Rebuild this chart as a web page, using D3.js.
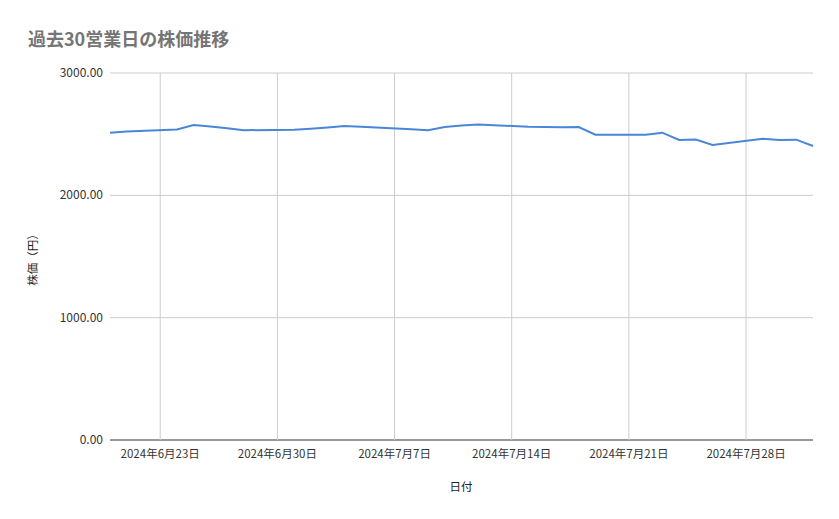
<!DOCTYPE html>
<html><head><meta charset="utf-8">
<script src="https://cdn.jsdelivr.net/npm/d3@7"></script>
<style>body{margin:0;background:#fff;font-family:"Noto Sans CJK JP","Noto Sans",sans-serif}</style>
</head><body><svg id="c" width="839" height="519"></svg>
<script>
const dates = ["2024-06-20","2024-06-21","2024-06-24","2024-06-25","2024-06-26","2024-06-27","2024-06-28",
  "2024-07-01","2024-07-02","2024-07-03","2024-07-04","2024-07-05","2024-07-08","2024-07-09","2024-07-10",
  "2024-07-11","2024-07-12","2024-07-15","2024-07-16","2024-07-17","2024-07-18","2024-07-19","2024-07-22",
  "2024-07-23","2024-07-24","2024-07-25","2024-07-26","2024-07-29","2024-07-30","2024-07-31","2024-08-01"];
const prices = [2512,2522,2538,2575,2563,2548,2532,2537,2545,2555,2567,2560,2540,2532,2558,
  2570,2578,2561,2559,2557,2558,2495,2495,2512,2452,2457,2412,2462,2452,2455,2403];
const yTicks = [0,1000,2000,3000];
const xTicks = ["2024-06-23","2024-06-30","2024-07-07","2024-07-14","2024-07-21","2024-07-28"];

const parse = d3.timeParse("%Y-%m-%d");
const data = dates.map((d,i)=>({d:parse(d), v:prices[i]}));
const svg = d3.select("#c");
const x = d3.scaleTime().domain([parse("2024-06-20"), parse("2024-08-01")]).range([110,813]);
const y = d3.scaleLinear().domain([0,3000]).range([440,73]);

svg.append("text").attr("x",28).attr("y",46).attr("font-size",18).attr("font-weight","bold").attr("fill","#757575").text("過去30営業日の株価推移");

const g = svg.append("g");
g.selectAll(".yg").data(yTicks).join("line").attr("x1",110).attr("x2",813)
  .attr("y1",d=>y(d)).attr("y2",d=>y(d)).attr("stroke",d=>d===0?"#333":"#ccc");
g.selectAll(".xg").data(xTicks).join("line").attr("x1",d=>x(parse(d))).attr("x2",d=>x(parse(d)))
  .attr("y1",73).attr("y2",440).attr("stroke","#ccc");
g.selectAll(".yl").data(yTicks).join("text").attr("x",103).attr("y",d=>y(d)+4).attr("text-anchor","end")
  .attr("font-size",12).attr("fill","#333").text(d=>d3.format(".2f")(d));
g.selectAll(".xl").data(xTicks).join("text").attr("x",d=>x(parse(d))).attr("y",458).attr("text-anchor","middle")
  .attr("font-size",11.5).attr("fill","#333").text(d=>{const t=parse(d);return `${t.getFullYear()}年${t.getMonth()+1}月${t.getDate()}日`;});

svg.append("path").datum(data).attr("fill","none").attr("stroke","#4a86d8").attr("stroke-width",2)
  .attr("d",d3.line().x(d=>x(d.d)).y(d=>y(d.v)));

svg.append("text").attr("x",461).attr("y",491).attr("text-anchor","middle").attr("font-size",11.5).attr("fill","#222").text("日付");
svg.append("text").attr("transform","translate(37,257) rotate(-90)").attr("text-anchor","middle").attr("font-size",11.5).attr("fill","#222").text("株価（円）");
</script></body></html>
